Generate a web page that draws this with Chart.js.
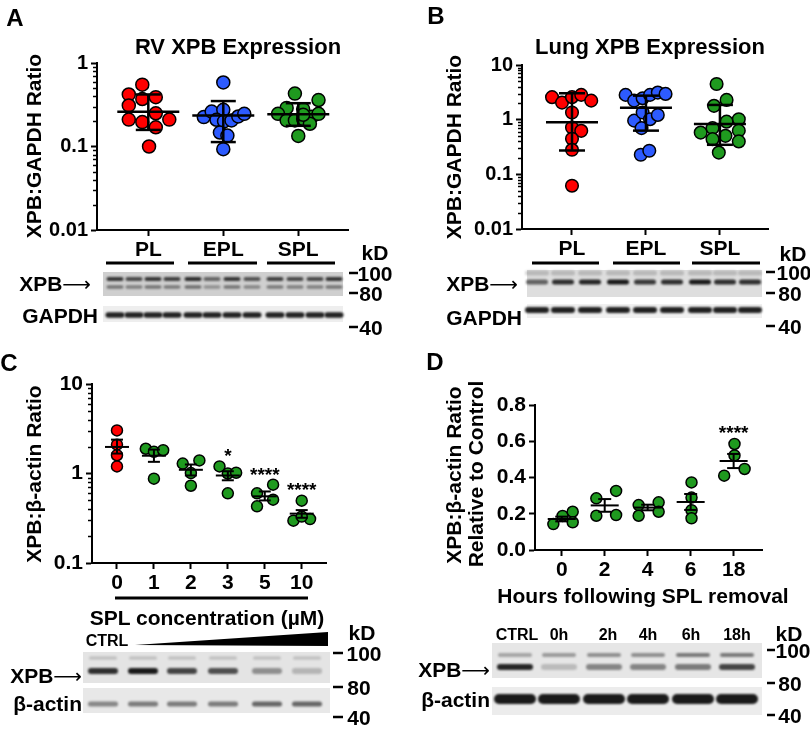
<!DOCTYPE html>
<html lang="en">
<head>
<meta charset="utf-8">
<title>XPB expression</title>
<script src="https://cdn.jsdelivr.net/npm/chart.js@4.4.0/dist/chart.umd.min.js"></script>
<style>
    body { margin: 0; background: #fff; }
    #fig { position: relative; width: 810px; height: 731px; overflow: hidden;
           font-family: 'Liberation Sans', Arial, sans-serif; font-weight: bold; color: #000; }
    #fig canvas { position: absolute; }
    .t { position: absolute; transform: translate(-50%, -50%); white-space: nowrap; font-size: 21px; line-height: 1; z-index: 3; }
    .r { transform: translate(-100%, -50%); }
    .v { transform: translate(-50%, -50%) rotate(-90deg); }
    .big { font-size: 24px; }
    .ttl { font-size: 22px; }
    .sm { font-size: 16px; }
    .arr { font-family: 'DejaVu Sans', sans-serif; font-weight: normal; font-size: 20px; }
</style>
</head>
<body>
<div id="fig">
    <canvas id="blots" width="810" height="731" style="left:0;top:0"></canvas>
    <canvas id="chartA" width="400" height="262" style="left:0;top:0"></canvas>
    <canvas id="chartB" width="410" height="262" style="left:400px;top:0"></canvas>
    <canvas id="chartC" width="400" height="300" style="left:0;top:330px"></canvas>
    <canvas id="chartD" width="410" height="280" style="left:400px;top:330px"></canvas>

    <!-- panel letters + titles -->
    <div class="t big" style="left:15px;top:18px">A</div>
    <div class="t big" style="left:436px;top:16px">B</div>
    <div class="t big" style="left:9px;top:363px">C</div>
    <div class="t big" style="left:435px;top:362px">D</div>
    <div class="t ttl" style="left:238px;top:47px">RV XPB Expression</div>
    <div class="t ttl" style="left:650px;top:47px">Lung XPB Expression</div>

    <!-- axis titles -->
    <div class="t v" style="left:33px;top:146px">XPB:GAPDH Ratio</div>
    <div class="t v" style="left:453px;top:147px">XPB:GAPDH Ratio</div>
    <div class="t v" style="left:33px;top:474px">XPB:β-actin Ratio</div>
    <div class="t v" style="left:453px;top:475px">XPB:β-actin Ratio</div>
    <div class="t v" style="left:475px;top:474px">Relative to Control</div>
    <div class="t" style="left:207px;top:617px">SPL concentration (µM)</div>
    <div class="t" style="left:643px;top:595px">Hours following SPL removal</div>

    <!-- blot A -->
    <div class="t r" style="left:91px;top:283px">XPB<span class="arr">⟶</span></div>
    <div class="t r" style="left:98px;top:315px">GAPDH</div>
    <div class="t" style="left:375px;top:252px">kD</div>
    <div class="t" style="left:375px;top:273px">100</div>
    <div class="t" style="left:371px;top:293px">80</div>
    <div class="t" style="left:371px;top:327px">40</div>

    <!-- blot B -->
    <div class="t r" style="left:518px;top:283px">XPB<span class="arr">⟶</span></div>
    <div class="t r" style="left:522px;top:317px">GAPDH</div>
    <div class="t" style="left:793px;top:253px">kD</div>
    <div class="t" style="left:794px;top:272px">100</div>
    <div class="t" style="left:790px;top:293px">80</div>
    <div class="t" style="left:790px;top:326px">40</div>

    <!-- blot C -->
    <div class="t sm" style="left:107px;top:641px">CTRL</div>
    <div class="t" style="left:362px;top:632px">kD</div>
    <div class="t" style="left:364px;top:653px">100</div>
    <div class="t" style="left:359px;top:687px">80</div>
    <div class="t" style="left:359px;top:717px">40</div>
    <div class="t r" style="left:82px;top:675px">XPB<span class="arr">⟶</span></div>
    <div class="t r" style="left:82px;top:703px">β-actin</div>

    <!-- blot D -->
    <div class="t sm" style="left:517px;top:635px">CTRL</div>
    <div class="t sm" style="left:559px;top:635px">0h</div>
    <div class="t sm" style="left:608px;top:635px">2h</div>
    <div class="t sm" style="left:648px;top:635px">4h</div>
    <div class="t sm" style="left:691px;top:635px">6h</div>
    <div class="t sm" style="left:737px;top:635px">18h</div>
    <div class="t" style="left:789px;top:633px">kD</div>
    <div class="t" style="left:793px;top:650px">100</div>
    <div class="t" style="left:790px;top:683px">80</div>
    <div class="t" style="left:790px;top:715px">40</div>
    <div class="t r" style="left:490px;top:669px">XPB<span class="arr">⟶</span></div>
    <div class="t r" style="left:490px;top:699px">β-actin</div>
</div>

<script>
    const FONT = "'Liberation Sans', Arial, sans-serif";
    const RED = '#ff0000', BLUE = '#2d5bff', GREEN = '#1f9a1f';

    // ---- A: RV XPB:GAPDH (log axis) ----
    const rvCats = ['PL', 'EPL', 'SPL'];
    const rvTicks = [0.01, 0.1, 1];
    const rvTickLabels = ['0.01', '0.1', '1'];
    const rvPL = [0.55, 0.42, 0.37, 0.39, 0.31, 0.21, 0.25, 0.196, 0.21, 0.17, 0.10];
    const rvPLx = [-0.08, -0.26, -0.08, 0.10, -0.26, -0.26, 0.10, -0.08, 0.28, 0.10, 0.01];
    const rvEPL = [0.585, 0.225, 0.262, 0.275, 0.209, 0.2, 0.205, 0.229, 0.246, 0.147, 0.135, 0.093];
    const rvEPLx = [0, -0.26, -0.155, 0, -0.09, 0.01, 0.11, 0.2, 0.28, -0.045, 0.055, 0];
    const rvSPL = [0.43, 0.36, 0.29, 0.28, 0.246, 0.205, 0.205, 0.214, 0.227, 0.246, 0.187, 0.134, 0.24];
    const rvSPLx = [-0.045, 0.27, -0.155, 0.065, -0.27, -0.155, -0.045, 0.065, 0.18, 0.27, 0.155, 0, 0.065];
    const rvMean = [0.26, 0.235, 0.244];
    const rvUpper = [0.42, 0.35, 0.33];
    const rvLower = [0.158, 0.113, 0.177];

    // ---- B: Lung XPB:GAPDH (log axis) ----
    const lungCats = ['PL', 'EPL', 'SPL'];
    const lungTicks = [0.01, 0.1, 1, 10];
    const lungTickLabels = ['0.01', '0.1', '1', '10'];
    const lungPL = [2.58, 2.05, 2.58, 2.84, 2.23, 1.35, 0.72, 0.625, 0.447, 0.281, 0.062];
    const lungPLx = [-0.27, -0.135, 0, 0.125, 0.26, 0, 0, 0.125, 0, 0, 0];
    const lungEPL = [2.84, 2.23, 2.47, 2.84, 3.13, 2.96, 0.96, 1.35, 1.02, 1.22, 0.7, 0.228, 0.27];
    const lungEPLx = [-0.275, -0.16, -0.045, 0.055, 0.16, 0.265, -0.16, -0.045, 0.055, 0.16, -0.06, -0.07, 0.045];
    const lungSPL = [4.5, 1.79, 2.3, 1.02, 0.92, 0.58, 0.7, 0.506, 0.63, 0.44, 0.4, 0.25];
    const lungSPLx = [-0.045, -0.08, 0.09, 0.255, 0.09, -0.26, -0.1, 0.075, 0.255, -0.1, 0.255, -0.015];
    const lungMean = [0.9, 1.66, 0.83];
    const lungUpper = [3.04, 2.75, 1.86];
    const lungLower = [0.273, 0.63, 0.347];

    // ---- C: SPL concentration (log axis) ----
    const doseLabels = ['0', '1', '2', '3', '5', '10'];
    const doseTicks = [0.1, 1, 10];
    const doseTickLabels = ['0.1', '1', '10'];
    const dose0 = [3.03, 2.1, 1.6, 1.2];
    const dose0x = [0, 0, 0, 0];
    const dose1 = [1.89, 1.75, 1.82, 0.875];
    const dose1x = [-0.22, 0, 0.25, 0];
    const dose2 = [1.29, 1.4, 1.01, 0.73];
    const dose2x = [-0.22, 0.23, 0, 0];
    const dose3 = [1.2, 1.0, 1.02, 0.6];
    const dose3x = [-0.225, 0, 0.225, 0];
    const dose5 = [0.6, 0.75, 0.51, 0.43];
    const dose5x = [-0.21, 0.225, 0.225, -0.21];
    const dose10 = [0.497, 0.297, 0.31, 0.33];
    const dose10x = [0, -0.225, 0.225, 0];
    const doseMean = [1.98, 1.58, 1.1, 0.95, 0.556, 0.356];
    const doseUpper = [2.39, 1.85, 1.26, 1.06, 0.63, 0.39];
    const doseLower = [1.67, 1.35, 0.95, 0.84, 0.5, 0.32];
    const doseStars = ['', '', '', '*', '****', '****'];
    const doseStarAt = [0, 0, 0, 1.55, 0.95, 0.647];

    // ---- D: hours after SPL removal (linear axis) ----
    const hourLabels = ['0', '2', '4', '6', '18'];
    const hourTicks = [0, 0.2, 0.4, 0.6, 0.8];
    const hourTickLabels = ['0.0', '0.2', '0.4', '0.6', '0.8'];
    const h0 = [0.143, 0.188, 0.211, 0.153];
    const h0x = [-0.195, 0.02, 0.255, 0.255];
    const h2 = [0.285, 0.326, 0.189, 0.193];
    const h2x = [-0.195, 0.265, -0.195, 0.265];
    const h4 = [0.248, 0.263, 0.189, 0.211];
    const h4x = [-0.21, 0.255, -0.21, 0.255];
    const h6 = [0.373, 0.289, 0.22, 0.175];
    const h6x = [0.02, 0.02, 0.02, 0.02];
    const h18 = [0.585, 0.41, 0.447, 0.522];
    const h18x = [0.02, -0.22, 0.255, 0.02];
    const hourMean = [0.171, 0.246, 0.234, 0.265, 0.491];
    const hourUpper = [0.184, 0.281, 0.25, 0.309, 0.53];
    const hourLower = [0.158, 0.211, 0.219, 0.221, 0.452];
    const hourStars = ['', '', '', '', '****'];
    const hourStarAt = [0, 0, 0, 0, 0.644];

    Chart.defaults.font.family = FONT;
    Chart.defaults.color = '#000';

    // minor ticks 2..9 inside each decade
    function minorsOf(decades) {
        const out = [];
        for (let d = 0; d < decades.length - 1; d++)
            for (let k = 2; k <= 9; k++) out.push(decades[d] * k);
        return out;
    }

    function line(ctx, x1, y1, x2, y2) {
        ctx.beginPath(); ctx.moveTo(x1, y1); ctx.lineTo(x2, y2); ctx.stroke();
    }

    // mean line + error bars, drawn over the dots
    const errBars = {
        id: 'errBars',
        afterDatasetsDraw(chart, args, o) {
            const { ctx, scales: { x, y } } = chart;
            ctx.save();
            ctx.strokeStyle = '#000';
            ctx.lineWidth = o.width;
            o.mean.forEach((m, i) => {
                const cx = x.getPixelForValue(i + 1);
                const ym = y.getPixelForValue(m);
                const yu = y.getPixelForValue(o.upper[i]);
                const yl = y.getPixelForValue(o.lower[i]);
                line(ctx, cx - o.halfMean, ym, cx + o.halfMean, ym);
                line(ctx, cx, yu, cx, yl);
                line(ctx, cx - o.halfCap, yu, cx + o.halfCap, yu);
                line(ctx, cx - o.halfCap, yl, cx + o.halfCap, yl);
            });
            ctx.restore();
        }
    };

    const minorTicks = {
        id: 'minorTicks',
        afterDraw(chart, args, o) {
            if (!o.values || !o.values.length) return;
            const { ctx, scales: { y } } = chart;
            const x0 = chart.chartArea.left;
            ctx.save();
            ctx.strokeStyle = '#000';
            ctx.lineWidth = 1.5;
            o.values.forEach(v => {
                const py = Math.round(y.getPixelForValue(v)) + 0.5;
                line(ctx, x0 - 4, py, x0, py);
            });
            ctx.restore();
        }
    };

    const stars = {
        id: 'stars',
        afterDatasetsDraw(chart, args, o) {
            if (!o.labels) return;
            const { ctx, scales: { x, y } } = chart;
            ctx.save();
            ctx.font = 'bold 19px ' + FONT;
            ctx.textAlign = 'center';
            ctx.textBaseline = 'middle';
            ctx.fillStyle = '#000';
            o.labels.forEach((t, i) => {
                if (t) ctx.fillText(t, x.getPixelForValue(i + 1), y.getPixelForValue(o.at[i]));
            });
            ctx.restore();
        }
    };

    function group(values, jitter, cat, color, radius) {
        return {
            data: values.map((v, i) => ({ x: cat + jitter[i], y: v })),
            backgroundColor: color,
            borderColor: '#000',
            borderWidth: 1.5,
            pointRadius: radius
        };
    }

    function makeChart(id, p) {
        const bold = size => ({ family: FONT, size: size, weight: 'bold' });
        const yScale = {
            type: p.log ? 'logarithmic' : 'linear',
            min: p.yTicks[0],
            max: p.yTicks[p.yTicks.length - 1],
            afterBuildTicks: s => { s.ticks = p.yTicks.map(v => ({ value: v })); },
            afterFit: s => { s.width = p.yWidth; },
            ticks: { callback: (v, i) => p.yLabels[i], color: '#000', font: bold(p.yTickSize), padding: 3, autoSkip: false },
            grid: { drawOnChartArea: false, color: '#000', tickLength: 6, tickWidth: 2 },
            border: { color: '#000', width: 2 }
        };
        const xScale = {
            type: 'linear',
            min: p.xMin,
            max: p.xMax,
            afterBuildTicks: s => { s.ticks = p.xLabels.map((_, i) => ({ value: i + 1 })); },
            afterFit: s => { s.height = p.xHeight; },
            ticks: { callback: (v, i) => p.xLabels[i], color: '#000', font: bold(21), padding: 2, maxRotation: 0, autoSkip: false },
            grid: { drawOnChartArea: false, color: '#000', tickLength: 6, tickWidth: 2 },
            border: { color: '#000', width: 2 }
        };
        return new Chart(document.getElementById(id), {
            type: 'scatter',
            data: { datasets: p.datasets },
            options: {
                responsive: false,
                animation: false,
                events: [],
                layout: { padding: p.padding },
                plugins: {
                    legend: { display: false },
                    tooltip: { enabled: false },
                    errBars: p.err,
                    minorTicks: { values: p.minor || [] },
                    stars: p.stars || {}
                },
                scales: { x: xScale, y: yScale }
            },
            plugins: [errBars, minorTicks, stars]
        });
    }

    makeChart('chartA', {
        log: true, yTicks: rvTicks, yLabels: rvTickLabels, yTickSize: 20, minor: minorsOf(rvTicks), yWidth: 97,
        xLabels: rvCats, xMin: 0.316, xMax: 3.663, xHeight: 32,
        padding: { left: 0, top: 63, right: 52, bottom: 0 },
        datasets: [group(rvPL, rvPLx, 1, RED, 6.5), group(rvEPL, rvEPLx, 2, BLUE, 6.5), group(rvSPL, rvSPLx, 3, GREEN, 6.5)],
        err: { mean: rvMean, upper: rvUpper, lower: rvLower, halfMean: 31, halfCap: 12.5, width: 2.5 }
    });

    makeChart('chartB', {
        log: true, yTicks: lungTicks, yLabels: lungTickLabels, yTickSize: 20, minor: minorsOf(lungTicks), yWidth: 122,
        xLabels: lungCats, xMin: 0.324, xMax: 3.65, xHeight: 33,
        padding: { left: 0, top: 65, right: 42, bottom: 0 },
        datasets: [group(lungPL, lungPLx, 1, RED, 6.3), group(lungEPL, lungEPLx, 2, BLUE, 6.3), group(lungSPL, lungSPLx, 3, GREEN, 6.3)],
        err: { mean: lungMean, upper: lungUpper, lower: lungLower, halfMean: 26, halfCap: 13, width: 2.5 }
    });

    makeChart('chartC', {
        log: true, yTicks: doseTicks, yLabels: doseTickLabels, yTickSize: 21, minor: minorsOf(doseTicks), yWidth: 92,
        xLabels: doseLabels, xMin: 0.324, xMax: 6.657, xHeight: 67,
        padding: { left: 0, top: 54, right: 74, bottom: 0 },
        datasets: [
            group(dose0, dose0x, 1, RED, 5.5), group(dose1, dose1x, 2, GREEN, 5.5), group(dose2, dose2x, 3, GREEN, 5.5),
            group(dose3, dose3x, 4, GREEN, 5.5), group(dose5, dose5x, 5, GREEN, 5.5), group(dose10, dose10x, 6, GREEN, 5.5)
        ],
        err: { mean: doseMean, upper: doseUpper, lower: doseLower, halfMean: 12, halfCap: 6, width: 2 },
        stars: { labels: doseStars, at: doseStarAt }
    });

    makeChart('chartD', {
        log: false, yTicks: hourTicks, yLabels: hourTickLabels, yTickSize: 21, yWidth: 135,
        xLabels: hourLabels, xMin: 0.378, xMax: 5.66, xHeight: 60,
        padding: { left: 0, top: 75, right: 48, bottom: 0 },
        datasets: [
            group(h0, h0x, 1, GREEN, 5.5), group(h2, h2x, 2, GREEN, 5.5), group(h4, h4x, 3, GREEN, 5.5),
            group(h6, h6x, 4, GREEN, 5.5), group(h18, h18x, 5, GREEN, 5.5)
        ],
        err: { mean: hourMean, upper: hourUpper, lower: hourLower, halfMean: 14, halfCap: 6.5, width: 2 },
        stars: { labels: hourStars, at: hourStarAt }
    });

    // ---- western blot strips (pictures, not data) ----
    const bg = document.getElementById('blots').getContext('2d');

    function strip(x, y, w, h, shade) {
        bg.fillStyle = shade;
        bg.fillRect(x, y, w, h);
    }

    function band(cx, cy, w, h, k) {
        bg.save();
        bg.filter = 'blur(1px)';
        bg.fillStyle = 'rgba(15,15,15,' + k + ')';
        bg.beginPath();
        bg.roundRect(cx - w / 2, cy - h / 2, w, h, h / 2);
        bg.fill();
        bg.restore();
    }

    function rule(x1, y1, x2, y2, w) {
        bg.save();
        bg.strokeStyle = '#000';
        bg.lineWidth = w;
        line(bg, x1, y1, x2, y2);
        bg.restore();
    }

    // A
    const laneA = [115, 134, 153, 172, 193, 212, 232, 252, 275, 295, 315, 334];
    const xpbA = [0.8, 0.7, 0.8, 0.75, 0.85, 0.55, 0.8, 0.65, 0.75, 0.7, 0.7, 0.8];
    strip(103, 272, 240, 24, '#cfcfcf');
    laneA.forEach((x, i) => { band(x, 279, 17, 4, xpbA[i]); band(x, 287, 17, 3.5, xpbA[i] * 0.6); });
    strip(103, 306, 240, 16, '#eeeeee');
    laneA.forEach(x => band(x, 315, 19, 5.5, 0.92));
    [[106, 174], [188, 257], [267, 335]].forEach(s => rule(s[0], 263, s[1], 263, 3));
    [273, 293, 327].forEach(y => rule(349, y, 358, y, 2.5));

    // B
    const laneB = [537, 563, 590, 618, 645, 672, 700, 725, 750];
    const xpbB = [0.6, 0.85, 0.9, 0.95, 0.8, 0.85, 0.95, 0.85, 0.85];
    strip(527, 270, 235, 27, '#dedede');
    laneB.forEach((x, i) => { band(x, 273, 24, 5, 0.18); band(x, 282, 22, 5, xpbB[i]); });
    strip(527, 304, 235, 14, '#f0f0f0');
    laneB.forEach(x => band(x, 310, 24, 6, 0.92));
    [[532, 599], [613, 680], [692, 760]].forEach(s => rule(s[0], 263, s[1], 263, 3));
    [272, 293, 326].forEach(y => rule(766, y, 775, y, 2.5));

    // C
    const laneC = [103, 143, 182, 223, 267, 307];
    const xpbC = [0.85, 0.95, 0.75, 0.7, 0.4, 0.22];
    const actC = [0.45, 0.5, 0.5, 0.5, 0.6, 0.6];
    strip(83, 652, 247, 31, '#e4e4e4');
    laneC.forEach((x, i) => { band(x, 658, 28, 3, 0.18); band(x, 671, 30, 6, xpbC[i]); });
    strip(83, 688, 247, 25, '#e8e8e8');
    laneC.forEach((x, i) => band(x, 704, 30, 5, actC[i]));
    rule(115, 598, 308, 598, 3);
    bg.fillStyle = '#000';
    bg.beginPath(); bg.moveTo(135, 645); bg.lineTo(328, 632); bg.lineTo(328, 646); bg.closePath(); bg.fill();
    [653, 687, 717].forEach(y => rule(333, y, 343, y, 2.5));

    // D
    const laneD = [515, 559, 604, 648, 693, 737];
    const xpbD = [0.9, 0.2, 0.45, 0.45, 0.5, 0.75];
    const upD = [0.3, 0.35, 0.4, 0.4, 0.5, 0.5];
    strip(492, 643, 270, 35, '#e6e6e6');
    laneD.forEach((x, i) => { band(x, 655, 34, 4, upD[i]); band(x, 667, 36, 6, xpbD[i]); });
    strip(492, 687, 270, 28, '#ececec');
    laneD.forEach(x => band(x, 699, 42, 10, 0.95));
    [650, 683, 715].forEach(y => rule(767, y, 775, y, 2.5));
</script>
</body>
</html>
